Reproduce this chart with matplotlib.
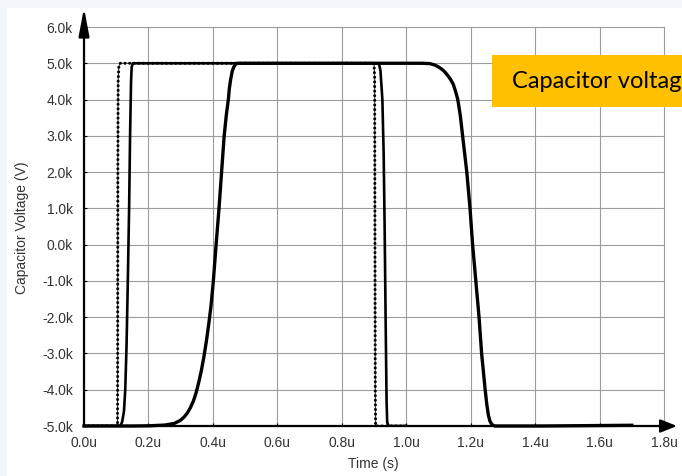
import matplotlib
matplotlib.use("Agg")
import matplotlib.pyplot as plt
from matplotlib.patches import Rectangle
from matplotlib.ticker import FuncFormatter

# ---- data (time in microseconds, voltage in volts) ----
t_fast = [0.0, 0.104, 0.1045, 0.105, 0.106, 0.108, 0.112, 0.600, 0.900, 0.902, 0.903, 0.904, 0.905, 1.000]
v_fast = [-5000, -5000, -3000, 2000, 4500, 4900, 5000, 5000, 5000, 4600, 0, -4000, -5000, -5000]

t_mid = [0.0, 0.112, 0.118, 0.124, 0.128, 0.132, 0.136, 0.140, 0.143, 0.146, 0.148, 0.152,
         0.600, 0.915, 0.920, 0.926, 0.930, 0.933, 0.936, 0.939, 0.941, 0.945, 1.000]
v_mid = [-5000, -5000, -4900, -4600, -4000, -2800, -1000, 1000, 3000, 4500, 4900, 5000,
         5000, 5000, 4800, 4000, 2500, 500, -2000, -4300, -4900, -5000, -5000]

t_slow = [0.0, 0.150, 0.200, 0.250, 0.280, 0.298, 0.310, 0.320, 0.330, 0.340, 0.348, 0.356,
          0.364, 0.372, 0.380, 0.387, 0.394, 0.401, 0.410, 0.419, 0.427, 0.435, 0.442, 0.448,
          0.451, 0.455, 0.460, 0.465, 0.470, 0.476, 0.700,
          1.050, 1.074, 1.089, 1.100, 1.110, 1.120, 1.130, 1.138, 1.146, 1.153, 1.160,
          1.168, 1.175, 1.188, 1.198, 1.206, 1.216, 1.226, 1.234, 1.245, 1.250, 1.255,
          1.260, 1.266, 1.275, 1.420, 1.700]
v_slow = [-5000, -5000, -4995, -4975, -4930, -4850, -4760, -4650, -4500, -4300, -4080, -3800,
          -3480, -3100, -2650, -2200, -1700, -1050, 0, 1000, 2000, 3000, 3600, 4000,
          4300, 4550, 4780, 4900, 4970, 5000, 5000,
          5000, 4990, 4950, 4900, 4840, 4760, 4650, 4550, 4420, 4230, 4000,
          3550, 3000, 2000, 1000, 0, -1000, -2000, -3000, -4000, -4400, -4700,
          -4870, -4960, -5000, -5000, -4980]

x_ticks = [0.0, 0.2, 0.4, 0.6, 0.8, 1.0, 1.2, 1.4, 1.6, 1.8]
y_ticks = [-5000, -4000, -3000, -2000, -1000, 0, 1000, 2000, 3000, 4000, 5000, 6000]

W, H = 682, 476
fig = plt.figure(figsize=(W / 100, H / 100), dpi=100)
fig.patch.set_facecolor("#F3F6FA")
fig.add_artist(Rectangle((7 / W, 0), 1, 1 - 8 / H, transform=fig.transFigure,
                         facecolor="white", edgecolor="none", zorder=-10))

ax = fig.add_axes([84 / W, 1 - 426 / H, 580 / W, 399 / H])
ax.set_facecolor("white")
ax.set_xlim(0, 1.8)
ax.set_ylim(-5000, 6000)
ax.set_xticks(x_ticks)
ax.set_yticks(y_ticks)
ax.xaxis.set_major_formatter(FuncFormatter(lambda v, p: f"{v:.1f}u"))
ax.yaxis.set_major_formatter(FuncFormatter(lambda v, p: f"{v/1000:.1f}k"))

ax.grid(True, color="#9c9c9c", lw=0.8, zorder=0)
for gl in ax.get_xgridlines() + ax.get_ygridlines():
    gl.set_clip_on(False)
ax.set_axisbelow(True)

for s in ("top", "right"):
    ax.spines[s].set_visible(False)
for s in ("left", "bottom"):
    ax.spines[s].set_linewidth(1.6)
    ax.spines[s].set_color("black")
    ax.spines[s].set_zorder(3)

lab = dict(family="Liberation Sans", size=10)
for lbl in ax.get_xticklabels() + ax.get_yticklabels():
    lbl.set_fontfamily("Liberation Sans")
ax.tick_params(direction="in", length=2.5, width=0.8, color="black",
               labelsize=10, labelcolor="#333333")
ax.tick_params(axis="x", pad=7)
ax.tick_params(axis="y", pad=8)

# curves
ax.plot(t_fast, v_fast, color="#444444", lw=0.8, zorder=2)
ax.plot(t_fast, v_fast, color="black", lw=2.2, linestyle=(0, (0.01, 1.5)),
        dash_capstyle="round", zorder=2)
ax.plot(t_mid, v_mid, color="black", lw=1.9, zorder=2, solid_joinstyle="round")
ax.plot(t_slow, v_slow, color="black", lw=2.4, zorder=4, clip_on=False,
        solid_joinstyle="round")

# axis arrows
ax.annotate("", xy=(0, 1.048), xytext=(0, 0.99), xycoords="axes fraction",
            arrowprops=dict(arrowstyle="-|>,head_length=0.85,head_width=0.16",
                            color="black", lw=1.6, mutation_scale=20,
                            shrinkA=0, shrinkB=0))
ax.annotate("", xy=(1.0224, 0), xytext=(0.99, 0), xycoords="axes fraction",
            arrowprops=dict(arrowstyle="-|>,head_length=0.5,head_width=0.2",
                            color="black", lw=1.6, mutation_scale=20,
                            shrinkA=0, shrinkB=0))

fig.text(373 / W, 1 - 464 / H, "Time (s)", ha="center", va="center",
         color="#333333", **lab)
fig.text(22 / W, 1 - 228 / H, "Capacitor Voltage (V)", ha="center", va="center",
         rotation=90, color="#333333", **lab)

# title box (clipped at the right edge as in the reference)
fig.add_artist(Rectangle((492 / W, 1 - 107 / H), 220 / W, 52 / H,
                         transform=fig.transFigure, facecolor="#FFC000",
                         edgecolor="none", zorder=5))
fig.text(512 / W, 1 - 81 / H, "Capacitor voltage", ha="left", va="center",
         family="Lato", fontsize=17, color="black", zorder=6)

fig.savefig("out.png", dpi=100, facecolor=fig.get_facecolor())
